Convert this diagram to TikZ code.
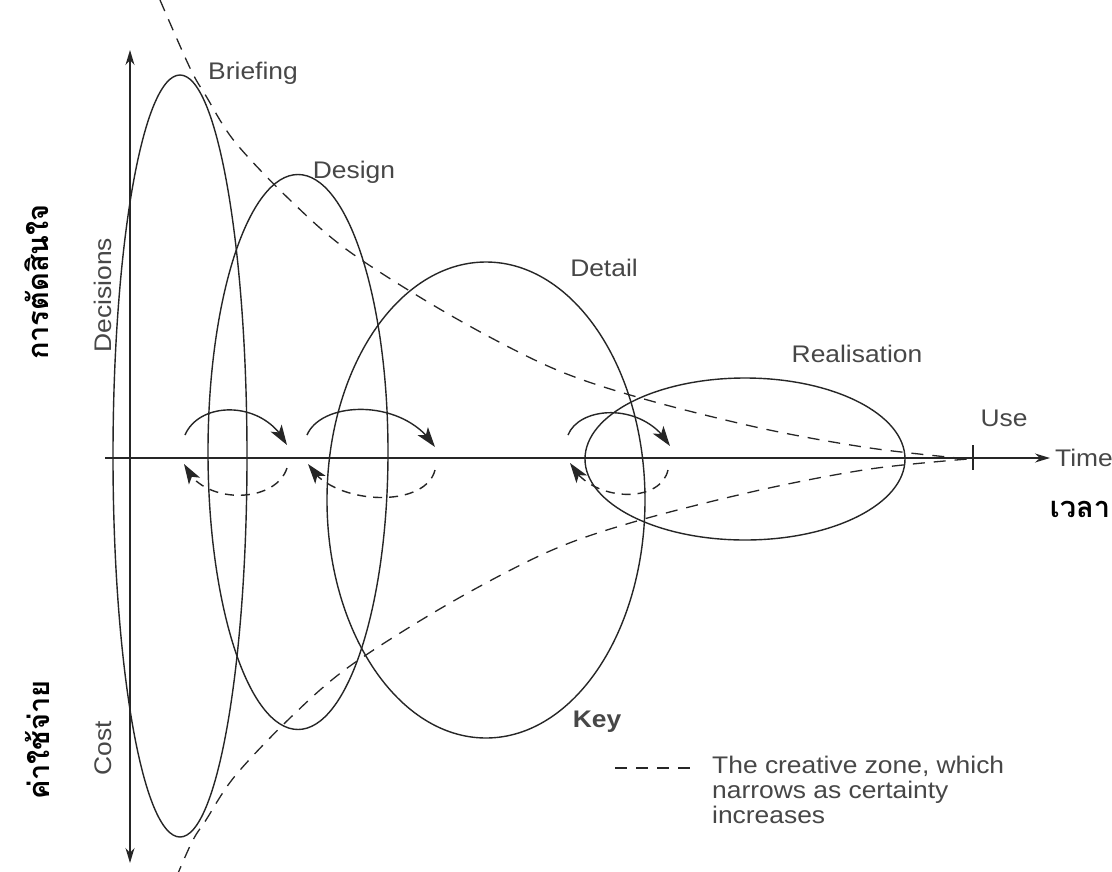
\documentclass[tikz,border=0pt]{standalone}
\usepackage{fontspec}
\setmainfont{Liberation Sans}[FakeStretch=1.1]
\newfontfamily\thaifont[Script=Thai]{Loma}
\usepackage{tikz}
\usetikzlibrary{arrows.meta, bending, shapes.geometric, calc}
\colorlet{inkline}{black!85}
\colorlet{inktext}{black!72}
\tikzset{
  stage/.style={draw=inkline, ellipse, line width=1.4pt, inner sep=0pt},
  lbl/.style={font=\fontsize{24}{28}\selectfont, text=inktext, inner sep=0pt},
  thailbl/.style={font=\thaifont\bfseries\fontsize{29}{32}\selectfont, text=black, inner sep=0pt},
  axis/.style={draw=inkline, line width=1.4pt},
  zone/.style={draw=inkline, line width=1.3pt, dash pattern=on 12pt off 9pt},
  loopfwd/.style={draw=inkline, line width=1.4pt, -{Stealth[length=20pt, width=13pt, inset=5pt, flex]}},
  loopback/.style={draw=inkline, line width=1.4pt, dash pattern=on 9pt off 7pt,
    -{Stealth[length=20pt, width=13pt, inset=5pt, flex]}}
}
\begin{document}
\begin{tikzpicture}[x=1pt, y=-1pt]
    \useasboundingbox[fill=white] (0,0) rectangle (1112,871);
    \clip (0,0) rectangle (1112,871);
    % stages
    \node[stage, minimum width=134, minimum height=762] (briefing) at (180,456) {};
    \node[stage, minimum width=180, minimum height=555] (design) at (298,452) {};
    \node[stage, minimum width=318, minimum height=476] (detail) at (486,500) {};
    \node[stage, minimum width=320, minimum height=162] (realisation) at (745,459) {};
    % axes
    \coordinate (vtop) at (130,50);
    \coordinate (vbot) at (130,863);
    \coordinate (hstart) at (105,458);
    \coordinate (hend) at (1050,458);
    \draw[axis, {Stealth[length=15pt, width=9pt]}-{Stealth[length=15pt, width=9pt]}] (vtop) -- (vbot);
    \draw[axis, -{Stealth[length=15pt, width=9pt]}] (hstart) -- (hend);
    \coordinate (usetick) at (973,458);
    \draw[axis] ($(usetick)+(0,-13)$) -- ($(usetick)+(0,12)$);
    % creative zone
    \draw[zone] plot[smooth, tension=0.55] coordinates {(160,0) (190,68) (206,96) (235,142)
      (290,200) (350,252) (450,315) (550,367) (637,397) (760,428) (870,448) (968,459)};
    \draw[zone] plot[smooth, tension=0.55] coordinates {(160,916) (190,846) (206,820) (235,776)
      (290,718) (350,666) (450,603) (550,551) (637,521) (760,490) (870,469) (968,459)};
    % iteration loops
    \coordinate (a1) at (185,435); \coordinate (b1) at (287,445);
    \coordinate (c1) at (287,468); \coordinate (d1) at (184,464);
    \draw[loopfwd] (a1) .. controls (200,400) and (265,400) .. (b1);
    \draw[loopback] (c1) .. controls (275,505) and (200,505) .. (d1);
    \coordinate (a2) at (307,435); \coordinate (b2) at (435,447);
    \coordinate (c2) at (435,470); \coordinate (d2) at (308,464);
    \draw[loopfwd] (a2) .. controls (322,400) and (405,398) .. (b2);
    \draw[loopback] (c2) .. controls (425,510) and (330,505) .. (d2);
    \coordinate (a3) at (568,435); \coordinate (b3) at (670,446);
    \coordinate (c3) at (668,470); \coordinate (d3) at (570,463);
    \draw[loopfwd] (a3) .. controls (580,405) and (645,402) .. (b3);
    \draw[loopback] (c3) .. controls (660,505) and (590,502) .. (d3);
    % labels
    \node[lbl] (lbriefing) at (253,73) {Briefing};
    \node[lbl] (ldesign) at (354,172) {Design};
    \node[lbl] (ldetail) at (604,268) {Detail};
    \node[lbl] (lreal) at (857,354) {Realisation};
    \node[lbl] (luse) at (1004,418) {Use};
    \node[lbl, anchor=west] (ltime) at (1055,458) {Time};
    \node[thailbl] (ltimeth) at (1080,509) {เวลา};
    \node[lbl, rotate=90] (ldecision) at (103,295) {Decisions};
    \node[lbl, rotate=90] (lcost) at (103,748) {Cost};
    \node[thailbl, rotate=90] (ldecisionth) at (37,282) {การตัดสินใจ};
    \node[thailbl, rotate=90] (lcostth) at (37,740) {ค่าใช้จ่าย};
    % key
    \node[lbl, font=\bfseries\fontsize{24}{28}\selectfont] (keyhead) at (597,722) {Key};
    \coordinate (keyl) at (615,768);
    \coordinate (keyr) at (692,768);
    \draw[zone] (keyl) -- (keyr);
    \node[lbl, anchor=north west, align=left, font=\fontsize{24}{25}\selectfont] (keytext) at (712,756)
      {The creative zone, which\\narrows as certainty\\increases};
\end{tikzpicture}
\end{document}
